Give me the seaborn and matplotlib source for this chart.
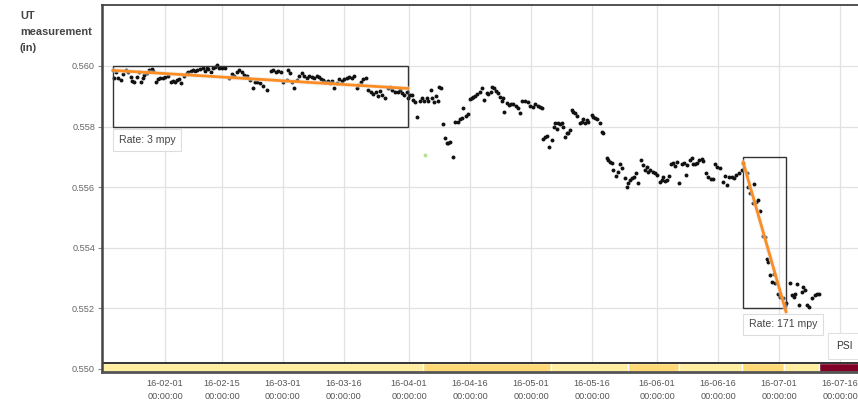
import numpy as np
import pandas as pd
import matplotlib
matplotlib.use("Agg")
import matplotlib.pyplot as plt
import matplotlib.dates as mdates
from matplotlib.patches import Rectangle
import seaborn as sns

# ---------------------------------------------------------------- data
# UT thickness readings: day offset from 2016-01-01 and wall thickness (in)
reading_day = [
    18.20, 18.45, 18.94, 19.43, 20.17, 20.66, 21.40, 21.89, 22.63, 22.87,
    23.36, 24.10, 24.59, 25.09, 25.58, 25.82, 26.56, 27.05, 27.79, 28.04,
    28.78, 29.27, 29.76, 30.50, 30.99, 31.73, 32.46, 32.96, 33.45, 33.94,
    34.43, 34.92, 35.66, 36.40, 36.65, 37.38, 37.88, 38.37, 38.86, 39.60,
    40.33, 40.83, 41.32, 41.56, 42.30, 42.79, 43.29, 43.78, 44.27, 45.01,
    45.75, 46.73, 47.47, 47.96, 48.70, 49.19, 49.93, 50.42, 51.16, 51.89,
    52.63, 53.12, 53.62, 54.35, 55.09, 56.08, 57.06, 57.55, 58.29, 58.78,
    59.52, 60.01, 61.00, 61.24, 61.73, 62.22, 62.72, 63.45, 63.95, 64.68,
    65.17, 65.91, 66.40, 67.14, 67.63, 68.37, 68.86, 69.36, 69.85, 70.34,
    71.08, 71.57, 72.06, 72.55, 73.29, 73.78, 74.52, 75.01, 75.75, 76.24,
    76.98, 77.47, 78.21, 78.46, 79.19, 79.69, 80.42, 80.92, 81.65, 82.14,
    82.88, 83.37, 83.87, 84.36, 85.10, 85.83, 86.33, 86.82, 87.56, 88.29,
    88.79, 89.28, 89.77, 90.51,
    90.75, 91.24, 91.74, 91.98, 92.47, 92.97, 93.70, 94.20, 94.69, 95.43,
    95.67, 96.41, 96.66, 97.15, 97.64, 98.13, 98.38, 98.87, 99.36, 99.85,
    100.34, 100.59, 101.08, 101.82, 102.31, 103.05, 103.54, 104.03, 104.28, 105.02,
    105.51, 106.00, 106.49, 106.74, 107.23, 107.72, 108.46, 108.95, 109.44, 110.18,
    110.43, 111.17, 111.41, 111.90, 112.40, 112.89, 113.38, 113.87, 114.12, 114.36,
    115.10, 115.59, 116.08, 116.58, 117.31, 117.81, 118.30, 118.79, 119.53, 120.27,
    120.76, 121.50, 121.99, 122.73, 123.22, 123.71, 123.95, 124.45, 124.94, 125.43,
    126.17, 126.66, 126.91, 127.40, 127.64, 128.14, 128.63, 128.87, 129.37, 129.86,
    130.10, 130.60, 131.09, 131.33, 131.83, 132.32, 133.05, 133.55, 133.79, 134.28,
    134.78, 135.02, 136.00, 136.25, 136.74, 137.24, 137.97, 138.47, 138.71, 139.70,
    139.94, 140.43, 140.92, 141.17, 141.91, 142.40, 142.89, 143.38, 144.12, 144.61,
    144.86, 145.35, 145.84, 146.34, 146.83, 147.32, 148.06, 148.55, 149.04, 149.53,
    149.78, 150.27, 151.01, 151.50, 151.99, 152.73, 153.22, 153.47, 153.96, 154.45,
    154.94, 155.43, 155.93, 156.42, 156.91, 157.40, 158.14, 158.63, 159.12, 159.37,
    160.11, 160.60, 160.85, 161.34, 161.83, 162.32, 163.06, 163.31, 164.04, 164.54,
    165.27, 165.77, 166.26, 166.75, 167.49, 168.22, 168.72, 169.21, 169.70, 170.44,
    170.93, 171.42, 172.16, 172.90, 173.14, 174.13, 174.37, 174.86, 175.60, 175.85,
    176.34, 176.83, 177.32, 178.06, 178.55, 179.05, 179.29, 179.78, 180.28, 180.77,
    181.01, 181.75, 182.24, 182.98, 183.47, 183.72, 184.70, 185.19, 185.69, 185.93,
    186.42, 186.92, 187.65, 187.90, 188.39, 188.88, 189.38, 190.11, 190.85, 191.34,
    191.83,
]
reading_in = [
    0.55987, 0.55960, 0.55979, 0.55959, 0.55954, 0.55973, 0.55987, 0.55979, 0.55965, 0.55950,
    0.55948, 0.55965, 0.55981, 0.55948, 0.55961, 0.55970, 0.55976, 0.55987, 0.55990, 0.55983,
    0.55948, 0.55957, 0.55959, 0.55961, 0.55965, 0.55968, 0.55948, 0.55950, 0.55948, 0.55954,
    0.55957, 0.55943, 0.55968, 0.55976, 0.55981, 0.55983, 0.55987, 0.55983, 0.55987, 0.55990,
    0.55992, 0.55983, 0.55992, 0.55990, 0.55979, 0.55994, 0.55997, 0.56003, 0.55994, 0.55992,
    0.55994, 0.55959, 0.55973, 0.55968, 0.55979, 0.55987, 0.55979, 0.55970, 0.55968, 0.55954,
    0.55928, 0.55948, 0.55948, 0.55943, 0.55935, 0.55921, 0.55983, 0.55987, 0.55979, 0.55983,
    0.55981, 0.55948, 0.55954, 0.55987, 0.55976, 0.55946, 0.55926, 0.55954, 0.55968, 0.55976,
    0.55968, 0.55961, 0.55968, 0.55965, 0.55959, 0.55968, 0.55965, 0.55957, 0.55954, 0.55948,
    0.55950, 0.55943, 0.55950, 0.55926, 0.55943, 0.55957, 0.55950, 0.55957, 0.55961, 0.55965,
    0.55959, 0.55968, 0.55928, 0.55937, 0.55948, 0.55957, 0.55961, 0.55921, 0.55913, 0.55907,
    0.55915, 0.55902, 0.55917, 0.55904, 0.55895, 0.55926, 0.55932, 0.55921, 0.55915, 0.55913,
    0.55921, 0.55910, 0.55904, 0.55913,
    0.55894, 0.55904, 0.55904, 0.55888, 0.55881, 0.55832, 0.55884, 0.55894, 0.55884, 0.55894,
    0.55884, 0.55921, 0.55894, 0.55881, 0.55901, 0.55884, 0.55931, 0.55927, 0.55809, 0.55762,
    0.55746, 0.55746, 0.55749, 0.55700, 0.55815, 0.55815, 0.55825, 0.55828, 0.55861, 0.55835,
    0.55842, 0.55891, 0.55894, 0.55898, 0.55901, 0.55908, 0.55914, 0.55927, 0.55888, 0.55911,
    0.55908, 0.55914, 0.55931, 0.55927, 0.55917, 0.55911, 0.55898, 0.55884, 0.55894, 0.55848,
    0.55878, 0.55871, 0.55875, 0.55875, 0.55868, 0.55861, 0.55845, 0.55884, 0.55884, 0.55881,
    0.55868, 0.55865, 0.55875, 0.55868, 0.55865, 0.55861, 0.55759, 0.55766, 0.55769, 0.55733,
    0.55756, 0.55799, 0.55812, 0.55792, 0.55812, 0.55809, 0.55812, 0.55799, 0.55766, 0.55779,
    0.55779, 0.55789, 0.55855, 0.55848, 0.55845, 0.55835, 0.55812, 0.55815, 0.55825, 0.55812,
    0.55822, 0.55815, 0.55838, 0.55832, 0.55828, 0.55825, 0.55812, 0.55782, 0.55779, 0.55696,
    0.55690, 0.55683, 0.55680, 0.55657, 0.55637, 0.55650, 0.55677, 0.55663, 0.55630, 0.55601,
    0.55614, 0.55624, 0.55630, 0.55634, 0.55647, 0.55614, 0.55690, 0.55673, 0.55657, 0.55667,
    0.55650, 0.55657, 0.55650, 0.55647, 0.55640, 0.55617, 0.55624, 0.55634, 0.55620, 0.55624,
    0.55637, 0.55677, 0.55680, 0.55670, 0.55683, 0.55614, 0.55677, 0.55680, 0.55640, 0.55673,
    0.55690, 0.55696, 0.55677, 0.55677, 0.55680, 0.55690, 0.55693, 0.55686, 0.55647, 0.55634,
    0.55627, 0.55627, 0.55677, 0.55667, 0.55663, 0.55617, 0.55637, 0.55607, 0.55634, 0.55634,
    0.55630, 0.55640, 0.55647, 0.55657, 0.55680, 0.55647, 0.55601, 0.55581, 0.55548, 0.55611,
    0.55551, 0.55558, 0.55521, 0.55439, 0.55436, 0.55363, 0.55353, 0.55310, 0.55287, 0.55314,
    0.55284, 0.55248, 0.55238, 0.55234, 0.55211, 0.55218, 0.55284, 0.55244, 0.55238, 0.55248,
    0.55281, 0.55211, 0.55254, 0.55271, 0.55261, 0.55211, 0.55205, 0.55234, 0.55244, 0.55248,
    0.55248,
]

# flagged reading shown in green
flagged_day = [94.93]
flagged_in = [0.55706]

# corrosion-rate windows: start/end day, thickness at window centre, box y-range, rate
window_start = [18.20, 173.14]
window_end = [90.75, 183.72]
window_mid_in = [0.559555, 0.554355]
window_box_low = [0.558, 0.552]
window_box_high = [0.560, 0.557]
window_rate_mpy = [3, 171]

# PSI band along the bottom
psi_start = ["2016-01-16 00:00", "2016-04-04 10:30", "2016-05-05 22:00", "2016-05-24 20:40",
             "2016-06-06 09:40", "2016-06-21 21:40", "2016-07-02 05:30", "2016-07-10 20:00"]
psi_end = psi_start[1:] + ["2016-07-22 00:00"]
psi_level = ["low", "mid", "low", "mid", "low", "mid", "low", "high"]
psi_colors = {"low": "#ffeda0", "mid": "#fed976", "high": "#800026"}

tick_dates = ["2016-02-01", "2016-02-15", "2016-03-01", "2016-03-16", "2016-04-01",
              "2016-04-16", "2016-05-01", "2016-05-16", "2016-06-01", "2016-06-16",
              "2016-07-01", "2016-07-16"]
y_ticks = [0.550, 0.552, 0.554, 0.556, 0.558, 0.560]

# ---------------------------------------------------------------- style
sns.set_theme(style="white")
plt.rcParams["font.family"] = ["Liberation Sans", "DejaVu Sans"]

origin = pd.Timestamp("2016-01-01")
to_time = lambda d: origin + pd.to_timedelta(np.asarray(d, dtype=float), unit="D")

df = pd.DataFrame({"time": to_time(reading_day), "thickness": reading_in})
flag_df = pd.DataFrame({"time": to_time(flagged_day), "thickness": flagged_in})

fig = plt.figure(figsize=(8.58, 4.01), dpi=100)
ax = fig.add_axes([102 / 858, 1 - 372 / 401, 1 - 102 / 858, 367 / 401])

# grid
for t in tick_dates:
    ax.axvline(pd.Timestamp(t), color="#e2e2e2", lw=0.9, zorder=0)
for y in y_ticks:
    ax.axhline(y, color="#e2e2e2", lw=0.9, zorder=0)

# readings
sns.scatterplot(data=df, x="time", y="thickness", color="#111111", s=8,
                linewidth=0, ax=ax, zorder=3, legend=False)
sns.scatterplot(data=flag_df, x="time", y="thickness", color="#b6e28e", s=8,
                linewidth=0, ax=ax, zorder=3, legend=False)

# rate windows and fitted lines
label_offsets = [(4.3, -9.6), (4.3, -11.5)]
for i in range(len(window_start)):
    t0, t1 = to_time([window_start[i]])[0], to_time([window_end[i]])[0]
    x0, x1 = mdates.date2num(t0), mdates.date2num(t1)
    ax.add_patch(Rectangle((x0, window_box_low[i]), x1 - x0,
                           window_box_high[i] - window_box_low[i],
                           fill=False, ec="#333333", lw=1.0, zorder=4))
    span_years = (window_end[i] - window_start[i]) / 365.0
    half_drop = window_rate_mpy[i] / 1000.0 * span_years / 2
    ys = [window_mid_in[i] + half_drop, window_mid_in[i] - half_drop]
    ax.plot([t0, t1], ys, color="#e6e6e6", lw=3.5, alpha=0.5, zorder=4,
            solid_capstyle="round")
    ax.plot([t0, t1], ys, color="#fd8d22", lw=2, zorder=5)
    ax.annotate(f"Rate: {window_rate_mpy[i]} mpy", xy=(x0, window_box_low[i]),
                xytext=label_offsets[i], textcoords="offset points",
                ha="left", va="center", fontsize=7.6, color="#444444",
                bbox=dict(boxstyle="square,pad=0.55", fc="white", ec="#dddddd", lw=0.8),
                zorder=6)

# PSI band
strip_low, strip_high = 0.5499, 0.5502
for s, e, lvl in zip(psi_start, psi_end, psi_level):
    xs = mdates.date2num(pd.Timestamp(s))
    xe = mdates.date2num(pd.Timestamp(e))
    ax.broken_barh([(xs, xe - xs)], (strip_low, strip_high - strip_low),
                   facecolors=psi_colors[lvl], zorder=2)
ax.axhline(strip_high, color="#111111", lw=1.2, zorder=2.5)

# axes limits and ticks
ax.set_xlim(to_time([15.49])[0], to_time([201.4])[0])
ax.set_ylim(0.5499, 0.56201)
ax.set_xticks([pd.Timestamp(t) for t in tick_dates])
ax.xaxis.set_major_formatter(mdates.DateFormatter("%y-%m-%d\n%H:%M:%S"))
ax.set_yticks(y_ticks)
ax.set_yticklabels([f"{v:.3f}" for v in y_ticks])
ax.tick_params(axis="x", length=0, pad=5, labelsize=6.6, labelcolor="#555555")
ax.tick_params(axis="y", length=3, width=0.8, color="#888888", pad=2,
               labelsize=6.6, labelcolor="#666666", left=True)
for lbl in ax.get_xticklabels():
    lbl.set_linespacing(1.55)
ax.set_xlabel("")
ax.set_ylabel("")

ax.spines["right"].set_visible(False)
ax.spines["left"].set_color("#444444")
ax.spines["left"].set_linewidth(1.8)
ax.spines["top"].set_color("#444444")
ax.spines["top"].set_linewidth(1.3)
ax.spines["bottom"].set_color("#555555")
ax.spines["bottom"].set_linewidth(2.0)

fig.text(20 / 858, 1 - 11 / 401, "UT\nmeasurement\n(in)", ha="left", va="top",
         fontsize=7.9, fontweight="bold", color="#444444", linespacing=1.75)
fig.text(836 / 858, 1 - 346 / 401, "PSI", ha="left", va="center", fontsize=7.4,
         color="#333333",
         bbox=dict(boxstyle="square,pad=0.75", fc="white", ec="#e2e2e2", lw=0.8))

fig.savefig("out.png", dpi=100)
